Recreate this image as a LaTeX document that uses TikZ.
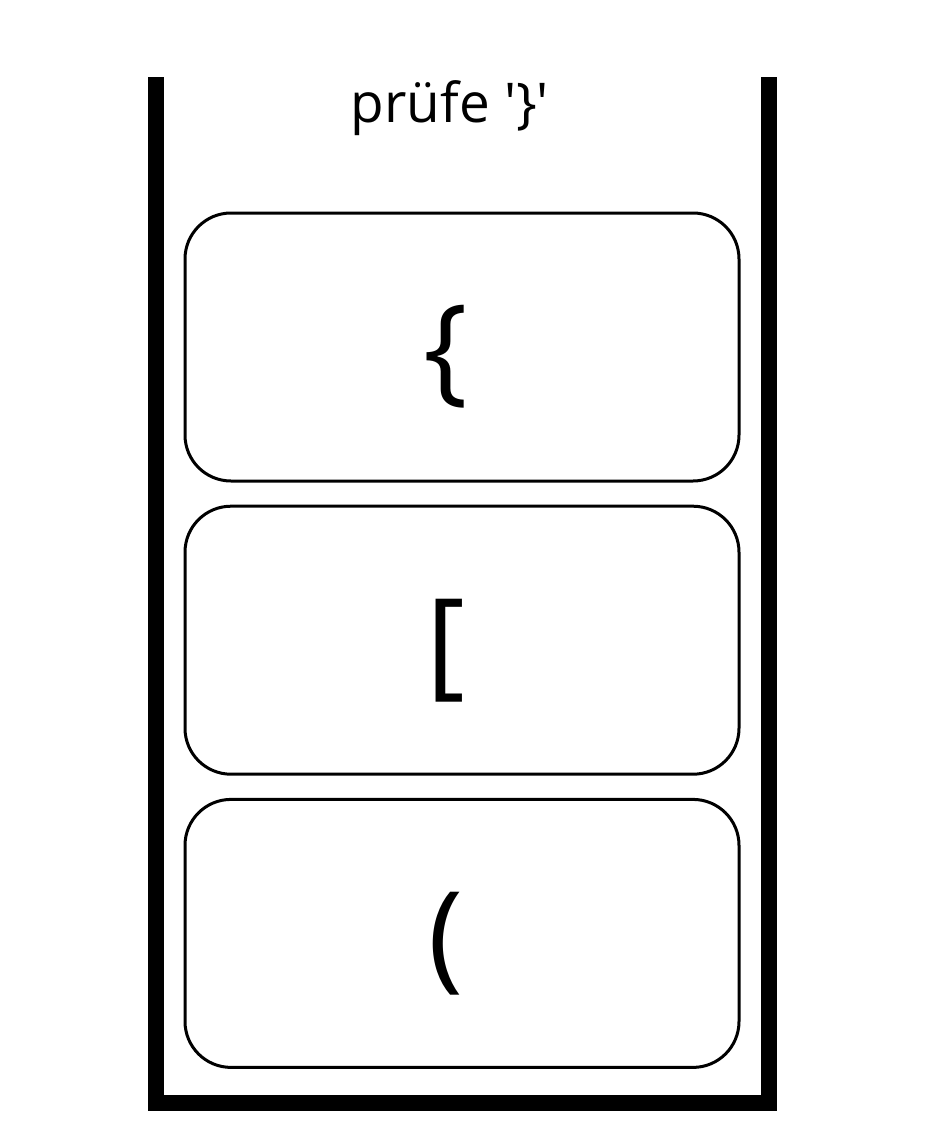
\documentclass[tikz,border=0pt]{standalone}
\usepackage{fontspec}
\setmainfont{Open Sans}
\usetikzlibrary{positioning}
\tikzstyle{slot} = [rectangle, rounded corners=1.15cm,
minimum width=13.85cm,
minimum height=6.7cm,
text centered,
draw=black,
line width=0.075cm]
\tikzstyle{wall} = [line width=0.4cm, draw=black]
\newcommand{\glyph}[1]{\fontsize{84}{90}\selectfont\hspace*{-0.8cm}\raisebox{-0.25cm}[\height][\depth]{#1}}

\begin{document}
\begin{tikzpicture}[node distance=7.33cm]
			\useasboundingbox (0,0) rectangle (23.2,-28.6);
			% stack walls
			\coordinate (lt) at (3.9,-1.925);
			\coordinate (lb) at (3.9,-27.575);
			\coordinate (rb) at (19.225,-27.575);
			\coordinate (rt) at (19.225,-1.925);
			\draw[wall] (lt) -- (lb) -- (rb) -- (rt);

			\node (check) at (11.25,-2.7) {\fontsize{39}{44}\selectfont prüfe \textquotesingle\}\textquotesingle};
			\node (curly) [slot] at (11.55,-8.675) {\glyph{\{}};
			\node (square) [slot, below of=curly] {\glyph{[}};
			\node (round) [slot, below of=square] {\glyph{(}};
		\end{tikzpicture}
\end{document}
